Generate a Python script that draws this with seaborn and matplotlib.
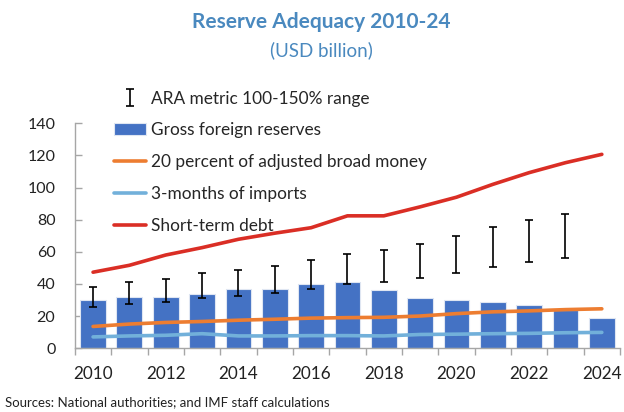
import numpy as np
import pandas as pd
import seaborn as sns
import matplotlib.pyplot as plt

years = list(range(2010, 2025))
reserves = [30, 31.7, 32, 34, 37, 37, 40, 41, 36, 31.5, 30, 29, 27, 23.5, 19]
ara_low = [25.7, 27.4, 29, 31, 32.7, 34.4, 37, 39.8, 41, 43.4, 46.7, 50.6, 53.5, 56, np.nan]
ara_high = [38, 41.3, 43.3, 46.7, 48.7, 51.4, 55, 58.9, 61.4, 65, 70, 75.3, 80, 83.8, np.nan]
broad_money = [13.5, 15, 16, 16.6, 17.4, 18, 18.7, 19, 19.2, 20, 21.5, 22.6, 23.2, 24, 24.5]
imports = [7, 7.6, 8, 9, 7.6, 7.6, 7.8, 7.8, 7.6, 8.5, 8.7, 9, 9.2, 9.6, 9.8]
st_debt = [47.3, 51.6, 58, 62.6, 67.8, 71.6, 75, 82.4, 82.4, 88, 94, 102, 109.3, 115.5, 120.7]

df = pd.DataFrame({
    "year": years,
    "pos": np.arange(len(years)),
    "reserves": reserves,
    "ara_low": ara_low,
    "ara_high": ara_high,
    "broad": broad_money,
    "imports": imports,
    "debt": st_debt,
})

sns.set_style("white")
plt.rcParams["font.family"] = ["Lato", "DejaVu Sans"]

fig = plt.figure(figsize=(6.24, 4.12), dpi=100)
ax = fig.add_axes([0.120, 0.155, 0.8736, 0.5456])

sns.barplot(data=df, x="pos", y="reserves", color="#4472C4", saturation=1,
            width=0.71, edgecolor="#dfe6f2", linewidth=0.8, ax=ax,
            label="Gross foreign reserves")

mid = (df["ara_low"] + df["ara_high"]) / 2
half = (df["ara_high"] - df["ara_low"]) / 2
eb = ax.errorbar(df["pos"], mid, yerr=half, fmt="none", ecolor="black",
                 elinewidth=1.2, capsize=3, capthick=1.2, zorder=4)

sns.lineplot(data=df, x="pos", y="broad", color="#ED7D31", linewidth=2.6,
             ax=ax, label="20 percent of adjusted broad money", zorder=5)
sns.lineplot(data=df, x="pos", y="imports", color="#72B0DA", linewidth=2.6,
             ax=ax, label="3-months of imports", zorder=5)
sns.lineplot(data=df, x="pos", y="debt", color="#DA2E25", linewidth=2.6,
             ax=ax, label="Short-term debt", zorder=5)

ax.set_xlim(-0.5, len(years) - 0.5)
ax.set_ylim(0, 140)
ax.set_yticks(range(0, 141, 20))
ax.set_xlabel("")
ax.set_ylabel("")

# ticks between categories, labels every other year
ax.set_xticks(np.arange(-0.5, len(years), 1.0))
ax.set_xticklabels([])
ax.set_xticks(np.arange(0, len(years), 2), minor=True)
ax.set_xticklabels([str(y) for y in years[::2]], minor=True)
ax.tick_params(axis="x", which="major", direction="out", length=5, color="#a6a6a6", width=1)
ax.tick_params(axis="x", which="minor", length=0, pad=13, labelsize=12.3, labelcolor="#222222")
ax.tick_params(axis="y", direction="in", length=5, color="#a6a6a6", width=1, pad=14,
               labelsize=11.5, labelcolor="#222222")
ax.tick_params(axis="y", left=True)
ax.tick_params(axis="x", bottom=True)

for s in ["top", "right"]:
    ax.spines[s].set_visible(False)
for s in ["left", "bottom"]:
    ax.spines[s].set_color("#a6a6a6")
    ax.spines[s].set_linewidth(1)

handles, labels = ax.get_legend_handles_labels()
h = dict(zip(labels, handles))
order = ["Gross foreign reserves", "20 percent of adjusted broad money",
         "3-months of imports", "Short-term debt"]
if ax.get_legend():
    ax.get_legend().remove()
fig.legend([eb] + [h[k] for k in order],
           ["ARA metric 100-150% range"] + order,
           loc="upper left", bbox_to_anchor=(0.171, 0.797), frameon=False,
           fontsize=12.4, handlelength=1.9, handletextpad=0.25,
           labelspacing=0.92, borderaxespad=0)

fig.text(0.515, 0.946, "Reserve Adequacy 2010-24", ha="center", va="center",
         fontsize=15, fontweight="bold", color="#4A89BF")
fig.text(0.515, 0.878, "(USD billion)", ha="center", va="center",
         fontsize=13.5, color="#4A89BF")
fig.text(0.008, 0.024, "Sources: National authorities; and IMF staff calculations",
         ha="left", va="center", fontsize=9.5, color="#222222")

fig.savefig("out.png", dpi=100)
